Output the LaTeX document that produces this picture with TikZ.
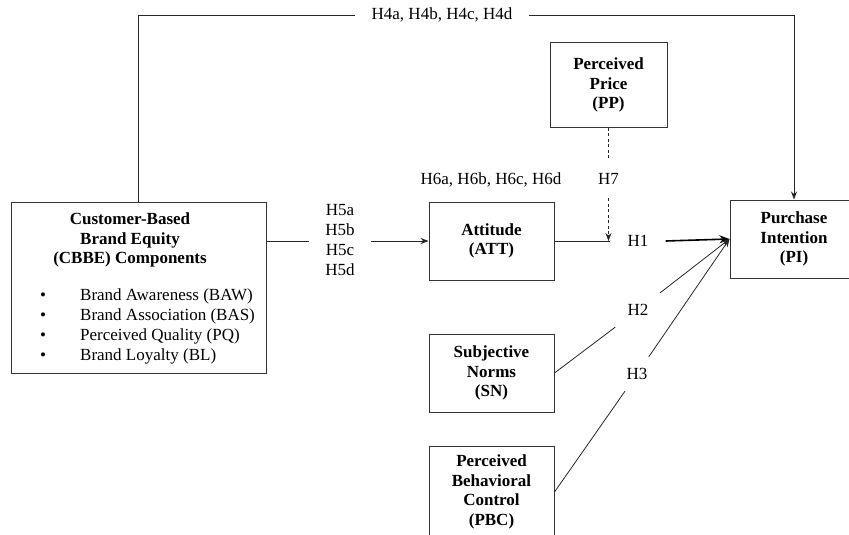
\documentclass[tikz,border=0pt]{standalone}
\usepackage{fontspec}
\setmainfont{Liberation Serif}
\usetikzlibrary{arrows.meta}
\begin{document}
\begin{tikzpicture}[x=1pt,y=-1pt,
  every node/.style={font=\fontsize{17}{19.7}\selectfont},
  box/.style={draw=black!80, line width=1pt, align=center, inner sep=0pt,
    font=\fontsize{17}{19.7}\selectfont\bfseries},
  lbl/.style={inner sep=0pt, align=center},
  gap/.style={inner sep=0pt, minimum width=45, minimum height=34},
  conn/.style={line width=0.8pt, draw=black!85},
  tip/.style={-{Stealth[length=8pt,width=6pt]}},
  bigtip/.style={-{Stealth[length=10pt,width=8pt]}}
]
\useasboundingbox (0,0) rectangle (849,535);
\clip (0,0) rectangle (849,535);

% boxes
\node[box, minimum width=255, minimum height=171] (cbbe) at (138.5,287.5) {};
\node[lbl, font=\fontsize{17}{19.7}\selectfont\bfseries] (cbbet) at (130,240)
  {Customer-Based\\Brand Equity\\(CBBE) Components};
\node[lbl, align=left, anchor=north west] (cbbel) at (40,289)
  {\makebox[40pt][l]{\textbullet}Brand Awareness (BAW)\\
   \makebox[40pt][l]{\textbullet}Brand Association (BAS)\\
   \makebox[40pt][l]{\textbullet}Perceived Quality (PQ)\\
   \makebox[40pt][l]{\textbullet}Brand Loyalty (BL)};

\node[box, minimum width=117, minimum height=84] (pp) at (608.5,85) {Perceived\\Price\\(PP)};
\node[box, minimum width=125, minimum height=78] (att) at (491.5,241) {Attitude\\(ATT)};
\node[box, minimum width=128, minimum height=78] (pi) at (794,239) {Purchase\\Intention\\(PI)};
\node[box, minimum width=125, minimum height=78] (sn) at (491.5,373) {Subjective\\Norms\\(SN)};
\node[box, minimum width=125, minimum height=92] (pbc) at (491.5,492) {Perceived\\Behavioral\\Control\\(PBC)};

% labels
\node[lbl, inner xsep=16pt] (h4) at (442,15) {H4a, H4b, H4c, H4d};
\node[lbl, inner xsep=16pt] (h5) at (340,240) {H5a\\H5b\\H5c\\H5d};
\node[lbl] (h6) at (491,180) {H6a, H6b, H6c, H6d};
\node[lbl, minimum height=38] (h7) at (608.5,179) {H7};
\node[lbl, inner xsep=17pt] (h1) at (638,241) {H1};
\node[gap] (h2) at (638,310) {H2};
\node[gap] (h3) at (637,374) {H3};

% connectors
\draw[conn] (cbbe.north) |- (h4.west);
\draw[conn,tip] (h4.east) -| (pi.north);
\draw[conn] (cbbe.east |- att.west) -- (h5.west |- att.west);
\draw[conn,tip] (h5.east |- att.west) -- (att.west);
\draw[conn,dash pattern=on 3pt off 2.5pt] (pp.south) -- (h7.north);
\draw[conn,dash pattern=on 3pt off 2.5pt,tip] (h7.south) -- (h7.south |- att.east);
\draw[conn] (att.east) -- (h1.west);
\draw[line width=1.6pt,draw=black,bigtip] (h1.east) -- (pi.west);
\draw[conn] (sn.east) -- (h2);
\draw[conn,tip] (h2) -- (pi.west);
\draw[conn] (pbc.east) -- (h3);
\draw[conn,tip] (h3) -- (pi.west);
\end{tikzpicture}
\end{document}
